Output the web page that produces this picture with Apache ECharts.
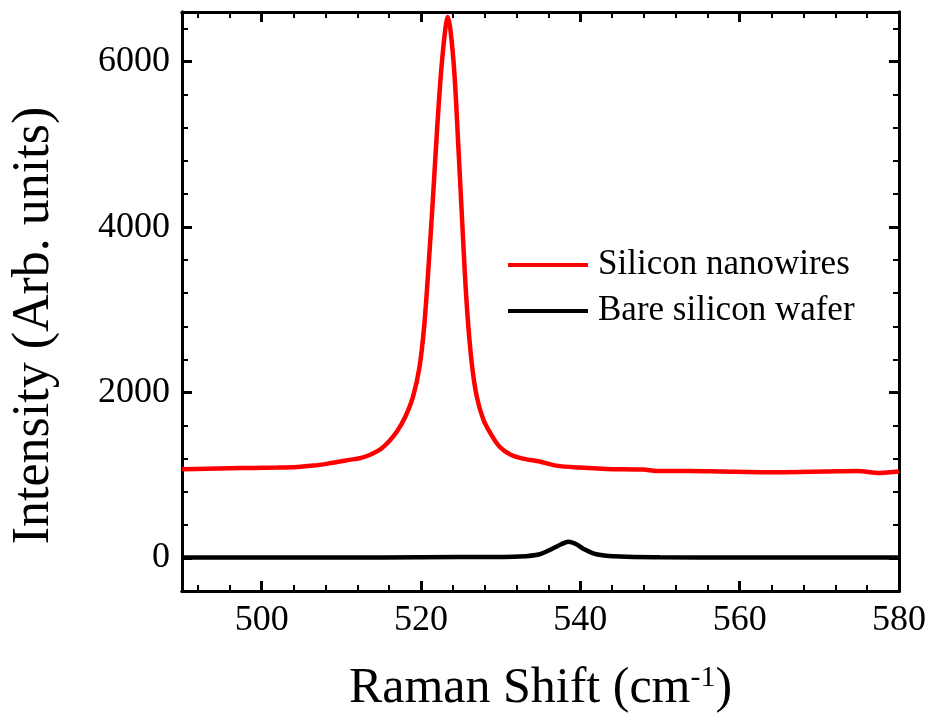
<!DOCTYPE html>
<html>
<head>
<meta charset="utf-8">
<script src="https://cdn.jsdelivr.net/npm/echarts@6/dist/echarts.min.js"></script>
<style>
  html, body { margin: 0; padding: 0; background: #fff; }
  #chart { width: 931px; height: 721px; }
</style>
</head>
<body>
<div id="chart"></div>
<script>
// Raman spectrum: silicon nanowires vs. bare silicon wafer
const shiftNW = [490, 493, 496, 499, 502, 504.5, 506.5, 508.3, 509.8, 511, 512.3, 513.3, 514,
  515.0, 516.0, 517.0, 518.0, 519.0, 519.8, 520.4, 521.0, 521.5, 522.0, 522.5, 523.0, 523.35,
  523.7, 524.2, 524.7, 525.1, 525.5, 525.9, 526.4, 527.0, 527.8, 528.7, 529.9, 531.2, 532.8, 534.9, 537,
  539.9, 543.3, 547.9, 549.6, 553.8, 558, 564.2, 570.5, 574.7, 577.6, 580];
const intensityNW = [1073, 1078, 1083, 1088, 1092, 1100, 1116, 1140, 1165, 1185, 1205, 1235, 1266,
  1320, 1410, 1530, 1700, 1950, 2300, 2800, 3600, 4350, 5150, 5850, 6350, 6540,
  6380, 5850, 4950, 4200, 3450, 2850, 2330, 1950, 1680, 1510, 1340, 1250, 1200, 1165, 1116,
  1092, 1076, 1068, 1052, 1052, 1044, 1036, 1044, 1052, 1028, 1044];

const shiftBare = [490, 500, 510, 520, 530, 532.4, 534.9, 536.6, 537.6, 538.5, 539.5, 540.4, 542.0, 545, 550, 560, 570, 580];
const intensityBare = [5, 5, 5, 8, 12, 16, 45, 117, 165, 195, 165, 109, 45, 16, 8, 5, 5, 5];

const xMajorTicks = [500, 520, 540, 560, 580];
const yMajorTicks = [0, 2000, 4000, 6000];
const xRange = [490, 580];
const yRange = [-400, 6600];

// minor ticks: every 4 cm-1 and every 400 counts
const xMinorTicks = [];
for (let v = 492; v <= 580; v += 4) if (xMajorTicks.indexOf(v) < 0) xMinorTicks.push(v);
const yMinorTicks = [];
for (let v = -400; v <= 6600; v += 400) if (yMajorTicks.indexOf(v) < 0) yMinorTicks.push(v);

const FONT = '"Liberation Serif", "Times New Roman", serif';
const toPairs = (xs, ys) => xs.map((x, i) => [x, ys[i]]);

function tickAxis(kind, position, ticks, len, width, withLabels, extra) {
  const range = kind === 'x' ? xRange : yRange;
  return Object.assign({
    type: 'value', position: position, min: range[0], max: range[1],
    splitLine: { show: false },
    axisLine: { show: true, onZero: false, lineStyle: { color: '#000', width: 3 } },
    axisTick: { show: true, inside: true, length: len, customValues: ticks, lineStyle: { color: '#000', width: width } },
    axisLabel: withLabels
      ? { show: true, customValues: ticks, color: '#000', fontFamily: FONT, fontSize: 36,
          margin: 12, formatter: v => String(v) }
      : { show: false }
  }, extra || {});
}

const chart = echarts.init(document.getElementById('chart'));
chart.setOption({
  animation: false,
  backgroundColor: '#fff',
  grid: { left: 182, right: 32, top: 12, bottom: 130, containLabel: false },
  legend: {
    orient: 'vertical', left: 508, top: 247, padding: 0, itemWidth: 80, itemHeight: 4, itemGap: 10,
    icon: 'rect',
    textStyle: { fontFamily: FONT, fontSize: 35, lineHeight: 36, color: '#000', padding: [0, 0, 0, 5] },
    data: ['Silicon nanowires', 'Bare silicon wafer']
  },
  xAxis: [
    tickAxis('x', 'bottom', xMajorTicks, 10, 3, true, {
      name: '{a|Raman Shift (cm}{s|-1}{a|)}', nameLocation: 'middle', nameGap: 72,
      nameTextStyle: { rich: {
        a: { fontFamily: FONT, fontSize: 50, color: '#000' },
        s: { fontFamily: FONT, fontSize: 30, color: '#000', verticalAlign: 'top', padding: [0, 0, 22, 0] }
      } }
    }),
    tickAxis('x', 'bottom', xMinorTicks, 6, 2, false),
    tickAxis('x', 'top', xMajorTicks, 10, 3, false),
    tickAxis('x', 'top', xMinorTicks, 6, 2, false)
  ],
  yAxis: [
    tickAxis('y', 'left', yMajorTicks, 10, 3, true, {
      name: 'Intensity (Arb. units)', nameLocation: 'middle', nameGap: 122,
      nameTextStyle: { fontFamily: FONT, fontSize: 52, color: '#000', padding: [0, 48, 0, 0] }
    }),
    tickAxis('y', 'left', yMinorTicks, 6, 2, false),
    tickAxis('y', 'right', yMajorTicks, 10, 3, false),
    tickAxis('y', 'right', yMinorTicks, 6, 2, false)
  ],
  series: [
    {
      name: 'Silicon nanowires', type: 'line', xAxisIndex: 0, yAxisIndex: 0,
      data: toPairs(shiftNW, intensityNW), smooth: 0.3, showSymbol: false,
      lineStyle: { color: '#ff0000', width: 4.5 }, itemStyle: { color: '#ff0000' }
    },
    {
      name: 'Bare silicon wafer', type: 'line', xAxisIndex: 0, yAxisIndex: 0,
      data: toPairs(shiftBare, intensityBare), smooth: 0.3, showSymbol: false,
      lineStyle: { color: '#000', width: 4.5 }, itemStyle: { color: '#000' }
    }
  ]
});
</script>
</body>
</html>
